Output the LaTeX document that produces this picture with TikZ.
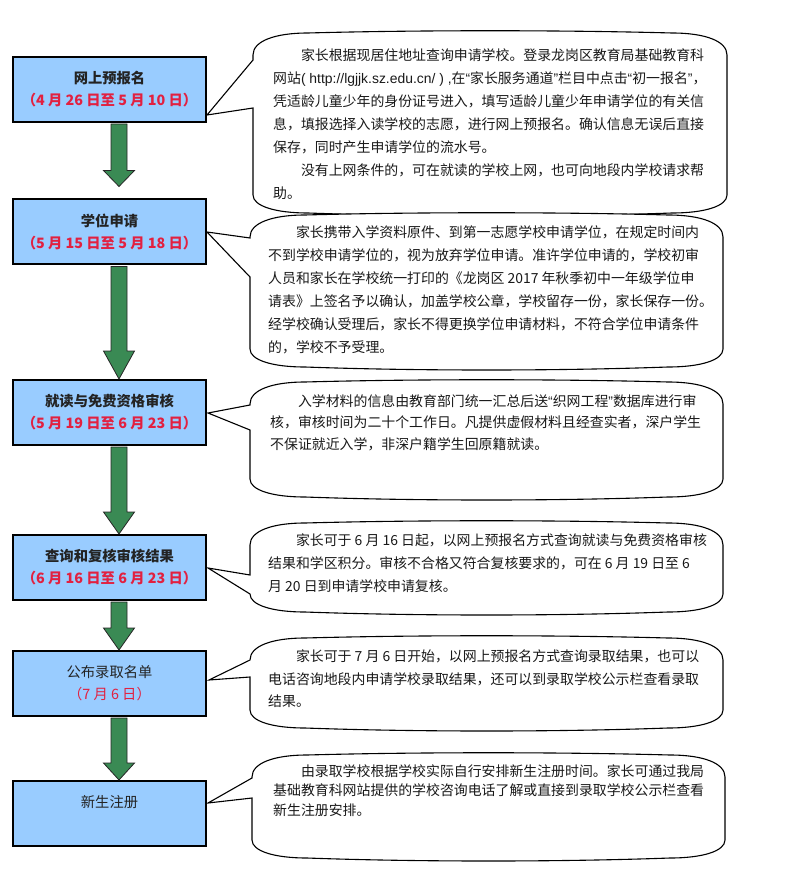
\documentclass[tikz,border=0pt]{standalone}
\usepackage{fontspec}
\setmainfont{Noto Sans CJK SC}
\newfontfamily\latinfont{Liberation Sans}
\usepackage{tikz}
\usetikzlibrary{calc,
    positioning}

\definecolor{boxblue}{RGB}{153,204,255}
\definecolor{arrowgreen}{RGB}{58,138,84}
\definecolor{datered}{RGB}{226,32,64}
\definecolor{titlegray}{RGB}{35,35,35}

\newcommand\quoted[1]{{\latinfont“}#1{\latinfont”}}

\tikzset{
    stagebox/.style={draw=black, line width=2pt, fill=boxblue,
        minimum width=193, minimum height=65, inner sep=0pt,
        align=center, text=titlegray, font=\fontsize{14.3}{22}\selectfont},
    notetext/.style={anchor=north west, inner sep=0pt, align=left,
        text=black!90},
    bubble/.style={draw=black, line width=1.1pt, fill=white},
    greenarrow/.style={draw=black!85, line width=0.8pt, fill=arrowgreen}
}

% left, top, right, bottom, tip, upper join, lower join
\newcommand\bubble[7]{%
    \draw[bubble] (#1,#6) -- (#1,{#2+22})
        .. controls (#1,{#2+8}) and ({#1+22},#2) .. ({#1+55},#2)
        .. controls ({#1+0.35*(#3-#1)},{#2-3}) and ({#3-0.35*(#3-#1)},{#2-3}) .. ({#3-55},#2)
        .. controls ({#3-22},#2) and (#3,{#2+8}) .. (#3,{#2+22})
        -- (#3,{#4-18})
        .. controls (#3,{#4-7}) and ({#3-22},#4) .. ({#3-55},#4)
        .. controls ({#3-0.35*(#3-#1)},{#4+4}) and ({#1+0.35*(#3-#1)},{#4+4}) .. ({#1+55},#4)
        .. controls ({#1+22},#4) and (#1,{#4-7}) .. (#1,{#4-18})
        -- (#1,#7) -- (#5) -- cycle;}

% from, to, head length, gap
\newcommand\flowarrow[4]{%
    \draw[greenarrow] let \p1=($(#1.south)+(9.5,1)$), \p2=($(#2.north)+(9.5,-#4)$) in
        (\x1-8pt,\y1) -- (\x1+8pt,\y1) -- (\x1+8pt,\y2+#3pt) -- (\x1+15.5pt,\y2+#3pt)
        -- (\x1,\y2) -- (\x1-15.5pt,\y2+#3pt) -- (\x1-8pt,\y2+#3pt) -- cycle;}

\begin{document}
\begin{tikzpicture}[x=1pt, y=-1pt]
    \useasboundingbox (0,0) rectangle (800,882);

    % callouts
    \bubble{253}{33}{727}{213}{207,115}{60}{108}
    \bubble{250}{215}{723}{367}{207,232}{238}{277}
    \bubble{250}{382}{723}{497}{208,413}{405}{430}
    \bubble{250}{523}{723}{612}{208,568}{575}{594}
    \bubble{250}{638}{723}{728}{209,680}{660}{677}
    \bubble{252}{755}{725}{858}{208,803}{778}{798}

    \node[notetext, font=\fontsize{13.9}{23}\selectfont] (note1) at (273,49)
        {\hspace*{2em}家长根据现居住地址查询申请学校。登录龙岗区教育局基础教育科\\
         网站{\latinfont( http://lgjjk.sz.edu.cn/ ) ,}在\quoted{家长服务通道}栏目中点击\quoted{初一报名}，\\
         凭适龄儿童少年的身份证号进入，填写适龄儿童少年申请学位的有关信\\
         息，填报选择入读学校的志愿，进行网上预报名。确认信息无误后直接\\
         保存，同时产生申请学位的流水号。\\
         \hspace*{2em}没有上网条件的，可在就读的学校上网，也可向地段内学校请求帮\\
         助。};
    \node[notetext, font=\fontsize{13.9}{23}\selectfont] (note2) at (268,225)
        {\hspace*{2em}家长携带入学资料原件、到第一志愿学校申请学位，在规定时间内\\
         不到学校申请学位的，视为放弃学位申请。准许学位申请的，学校初审\\
         人员和家长在学校统一打印的《龙岗区 2017 年秋季初中一年级学位申\\
         请表》上签名予以确认，加盖学校公章，学校留存一份，家长保存一份。\\
         经学校确认受理后，家长不得更换学位申请材料，不符合学位申请条件\\
         的，学校不予受理。};
    \node[notetext, font=\fontsize{13.9}{21.5}\selectfont] (note3) at (270,394)
        {\hspace*{2em}入学材料的信息由教育部门统一汇总后送\quoted{织网工程}数据库进行审\\
         核，审核时间为二十个工作日。凡提供虚假材料且经查实者，深户学生\\
         不保证就近入学，非深户籍学生回原籍就读。};
    \node[notetext, font=\fontsize{13.9}{23}\selectfont] (note4) at (268,534)
        {\hspace*{2em}家长可于 6 月 16 日起，以网上预报名方式查询就读与免费资格审核\\
         结果和学区积分。审核不合格又符合复核要求的，可在 6 月 19 日至 6\\
         月 20 日到申请学校申请复核。};
    \node[notetext, font=\fontsize{13.9}{22.5}\selectfont] (note5) at (268,650)
        {\hspace*{2em}家长可于 7 月 6 日开始，以网上预报名方式查询录取结果，也可以\\
         电话咨询地段内申请学校录取结果，还可以到录取学校公示栏查看录取\\
         结果。};
    \node[notetext, font=\fontsize{13.9}{19.5}\selectfont] (note6) at (273,764)
        {\hspace*{2em}由录取学校根据学校实际自行安排新生注册时间。家长可通过我局\\
         基础教育科网站提供的学校咨询电话了解或直接到录取学校公示栏查看\\
         新生注册安排。};

    % stages
    \node[stagebox] (prereg) at (109.5,89.5)
        {\bfseries 网上预报名\\{\bfseries\color{datered}（4 月 26 日至 5 月 10 日）}};
    \node[stagebox] (apply) at (109.5,232)
        {\bfseries 学位申请\\{\bfseries\color{datered}（5 月 15 日至 5 月 18 日）}};
    \node[stagebox] (review) at (109.5,412.5)
        {\bfseries 就读与免费资格审核\\{\bfseries\color{datered}（5 月 19 日至 6 月 23 日）}};
    \node[stagebox] (result) at (109.5,567.5)
        {\bfseries 查询和复核审核结果\\{\bfseries\color{datered}（6 月 16 日至 6 月 23 日）}};
    \node[stagebox] (publish) at (109.5,683.5)
        {公布录取名单\\{\color{datered}（7 月 6 日）}};
    \node[stagebox] (enrol) at (109.5,813.5)
        {新生注册\\\phantom{（）}};

    \flowarrow{prereg}{apply}{16}{12}
    \flowarrow{apply}{review}{28}{0}
    \flowarrow{review}{result}{22}{0}
    \flowarrow{result}{publish}{22}{0}
    \flowarrow{publish}{enrol}{17}{0}
\end{tikzpicture}
\end{document}
